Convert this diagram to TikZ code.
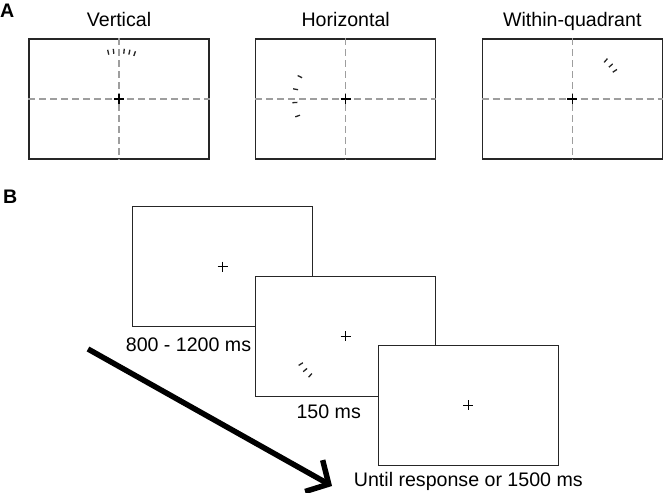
\documentclass[tikz,border=0pt]{standalone}
\usepackage{fontspec}
\setmainfont{Liberation Sans}
\usetikzlibrary{arrows.meta, positioning}

\tikzset{
  screen/.style={draw=black!85, line width=1.2pt, minimum width=180pt, minimum height=120pt, inner sep=0pt},
  meridian/.style={draw=black!38, line width=1.1pt, dash pattern=on 7pt off 4pt},
  title/.style={font=\fontsize{19.6}{23}\selectfont, inner sep=0pt},
  panel/.style={font=\fontsize{19.6}{23}\selectfont\bfseries, inner sep=0pt, anchor=base west},
  bar/.style={line width=1.3pt, black!85},
}
\newcommand{\fixcross}[2]{\draw[line width=#2] (#1) +(-5,0) -- +(5,0) (#1) +(0,-5) -- +(0,5);}

\begin{document}
\begin{tikzpicture}[x=1pt, y=-1pt]
	\useasboundingbox (0,0) rectangle (663,492);
	% panel A
	\node[panel] (pa) at (0,18) {A};
	\node[screen] (vert) at (119,99) {};
	\node[screen] (horz) at (345.7,99) {};
	\node[screen] (quad) at (572.3,99) {};
	\node[title, above=12pt of vert, anchor=base] (tvert) {Vertical};
	\node[title, above=12pt of horz, anchor=base] (thorz) {Horizontal};
	\node[title, above=12pt of quad, anchor=base] (tquad) {Within-quadrant};
	\foreach \s in {vert,horz,quad}{
		\draw[meridian] (\s.north) -- (\s.south);
		\draw[meridian] (\s.west) -- (\s.east);
		\fixcross{\s.center}{1.2pt}
	}
	\foreach \a in {-103,-96.5,-84,-77.5,-71}
		\draw[bar] (vert.center) ++(\a:45.5) -- ++(\a:5);
	\foreach \a in {-154,-169,-184,-199.5}
		\draw[bar] (horz.center) ++(\a:48.5) -- ++(\a:5);
	\foreach \a in {-49,-41,-33.5}
		\draw[bar] (quad.center) ++(\a:48.5) -- ++(\a:5);
	% panel B
	\node[panel] (pb) at (3,203) {B};
	\node[screen, fill=white, line width=1pt] (fix) at (222.7,266.7) {};
	\node[screen, fill=white, line width=1pt] (targ) at (345.7,336) {};
	\node[screen, fill=white, line width=1pt] (resp) at (468.3,405) {};
	\fixcross{fix.center}{0.8pt}
	\fixcross{targ.center}{0.8pt}
	\fixcross{resp.center}{0.8pt}
	\foreach \a in {-212,-220,-228}
		\draw[bar] (targ.center) ++(\a:50.5) -- ++(\a:5);
	\node[title, anchor=base] (dfix) at (188.5,351.5) {800 - 1200 ms};
	\node[title, anchor=base] (dtarg) at (328.7,418.5) {150 ms};
	\node[title, anchor=base] (dresp) at (468.3,486.5) {Until response or 1500 ms};
	\coordinate (tstart) at (88,349);
	\coordinate (tend) at (332,486);
	\draw[-{Straight Barb[length=17pt,width=36pt]}, line width=5.5pt] (tstart) -- (tend);
\end{tikzpicture}
\end{document}
